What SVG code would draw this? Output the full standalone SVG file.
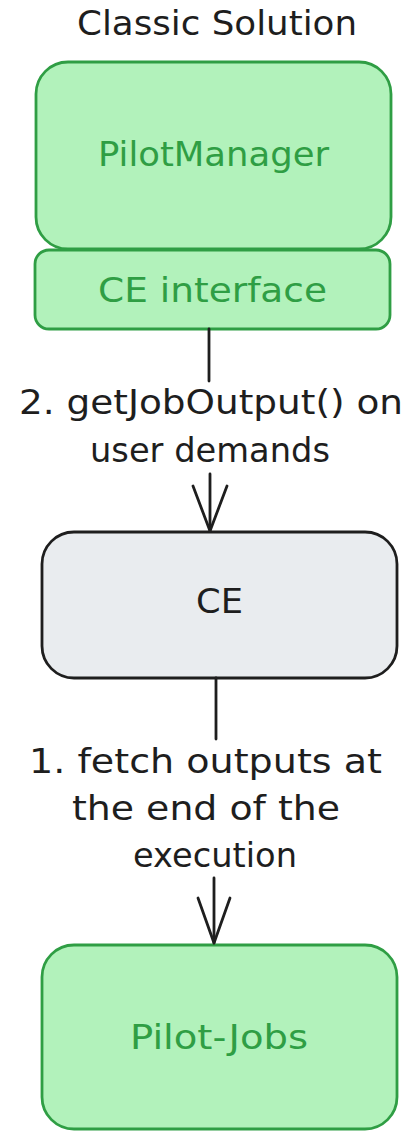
<svg xmlns="http://www.w3.org/2000/svg" width="408" height="1131" viewBox="0 0 408 1131">
  <style>
    .txt { font-family: "DejaVu Sans", "Open Sans", sans-serif; font-size: 33px; }
    .dark { fill: #1e1e1e; }
    .green { fill: #2f9e44; }
    .box-green { fill: #b2f2bb; stroke: #2f9e44; stroke-width: 2.8; }
    .box-grey { fill: #e9ecef; stroke: #1e1e1e; stroke-width: 2.8; }
    .edge { fill: none; stroke: #1e1e1e; stroke-width: 2.8; stroke-linecap: round; stroke-linejoin: round; }
  </style>
  <rect width="408" height="1131" fill="#ffffff"/>

  <!-- heading -->
  <text id="title" class="txt dark" x="77" y="35" textLength="280" lengthAdjust="spacingAndGlyphs">Classic Solution</text>

  <g id="pilot-manager">
    <rect class="box-green" x="36" y="62" width="355" height="187" rx="32"/>
    <text class="txt green" x="98" y="166" textLength="231" lengthAdjust="spacingAndGlyphs">PilotManager</text>
  </g>

  <g id="ce-interface">
    <rect class="box-green" x="35" y="250" width="355" height="79" rx="14"/>
    <text class="txt green" x="98" y="302" textLength="229" lengthAdjust="spacingAndGlyphs">CE interface</text>
  </g>

  <g id="ce">
    <rect class="box-grey" x="42" y="532" width="355" height="146" rx="32"/>
    <text class="txt dark" x="196" y="613" textLength="47" lengthAdjust="spacingAndGlyphs">CE</text>
  </g>

  <g id="pilot-jobs">
    <rect class="box-green" x="42" y="945" width="355" height="184" rx="32"/>
    <text class="txt green" x="130" y="1049" textLength="178" lengthAdjust="spacingAndGlyphs">Pilot-Jobs</text>
  </g>

  <g id="connectors">
    <!-- CE interface -> CE -->
    <path class="edge" d="M209 329 L209 381"/>
    <path class="edge" d="M210 474 L210 531"/>
    <path class="edge" d="M193 486 L210 531 L227 486"/>
    <text class="txt dark" x="19" y="414" textLength="384" lengthAdjust="spacingAndGlyphs">2. getJobOutput() on</text>
    <text class="txt dark" x="90" y="462" textLength="240" lengthAdjust="spacingAndGlyphs">user demands</text>

    <!-- CE -> Pilot-Jobs -->
    <path class="edge" d="M216 678 L216 739"/>
    <path class="edge" d="M214 878 L214 943"/>
    <path class="edge" d="M198 898 L214 943 L230 898"/>
    <text class="txt dark" x="29" y="773" textLength="353" lengthAdjust="spacingAndGlyphs">1. fetch outputs at</text>
    <text class="txt dark" x="72" y="820" textLength="268" lengthAdjust="spacingAndGlyphs">the end of the</text>
    <text class="txt dark" x="133" y="867" textLength="164" lengthAdjust="spacingAndGlyphs">execution</text>
  </g>
</svg>
